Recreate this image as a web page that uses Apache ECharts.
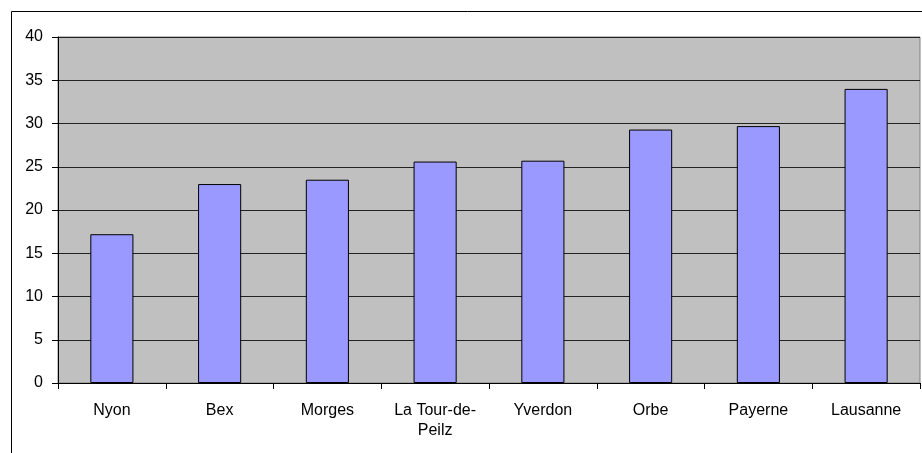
<!DOCTYPE html>
<html><head><meta charset="utf-8">
<script src="https://cdn.jsdelivr.net/npm/echarts@6/dist/echarts.min.js"></script>
<style>html,body{margin:0;padding:0;background:#fff;}#c{width:922px;height:453px;}</style>
</head><body><div id="c"></div>
<script>
var categories = ['Nyon','Bex','Morges','La Tour-de-Peilz','Yverdon','Orbe','Payerne','Lausanne'];
var values = [17.2, 23.0, 23.5, 25.6, 25.7, 29.3, 29.7, 34.0];
var yTicks = [0,5,10,15,20,25,30,35,40];

var chart = echarts.init(document.getElementById('c'), null, {renderer:'canvas'});
chart.setOption({
  animation:false,
  backgroundColor:'#ffffff',
  textStyle:{fontFamily:'Liberation Sans, Arial, sans-serif'},
  graphic:[{type:'rect', shape:{x:11.5,y:11.5,width:940,height:470}, style:{fill:'none',stroke:'#000',lineWidth:1}, silent:true, z:-1}],
  grid:{left:58, right:2, top:37, bottom:70, show:true, backgroundColor:'#C0C0C0', borderColor:'#808080', borderWidth:1},
  xAxis:{
    type:'category', data:categories,
    axisLine:{lineStyle:{color:'#000',width:1}},
    axisTick:{show:true, length:6, inside:false, lineStyle:{color:'#000'}},
    axisLabel:{color:'#000', fontSize:16, margin:18, lineHeight:20,
      formatter:function(v){return v.replace('Tour-de-','Tour-de-\n');}}
  },
  yAxis:{
    type:'value', min:yTicks[0], max:yTicks[yTicks.length-1], interval:5,
    axisLine:{show:true, lineStyle:{color:'#000',width:1}},
    axisTick:{show:true, length:6, lineStyle:{color:'#000'}},
    axisLabel:{color:'#000', fontSize:16, margin:15},
    splitLine:{show:true, lineStyle:{color:'#222',width:1}}
  },
  series:[{
    type:'bar', data:values, barWidth:'40%',
    itemStyle:{color:'#9999FF', borderColor:'#000', borderWidth:1}
  }]
});
</script></body></html>
